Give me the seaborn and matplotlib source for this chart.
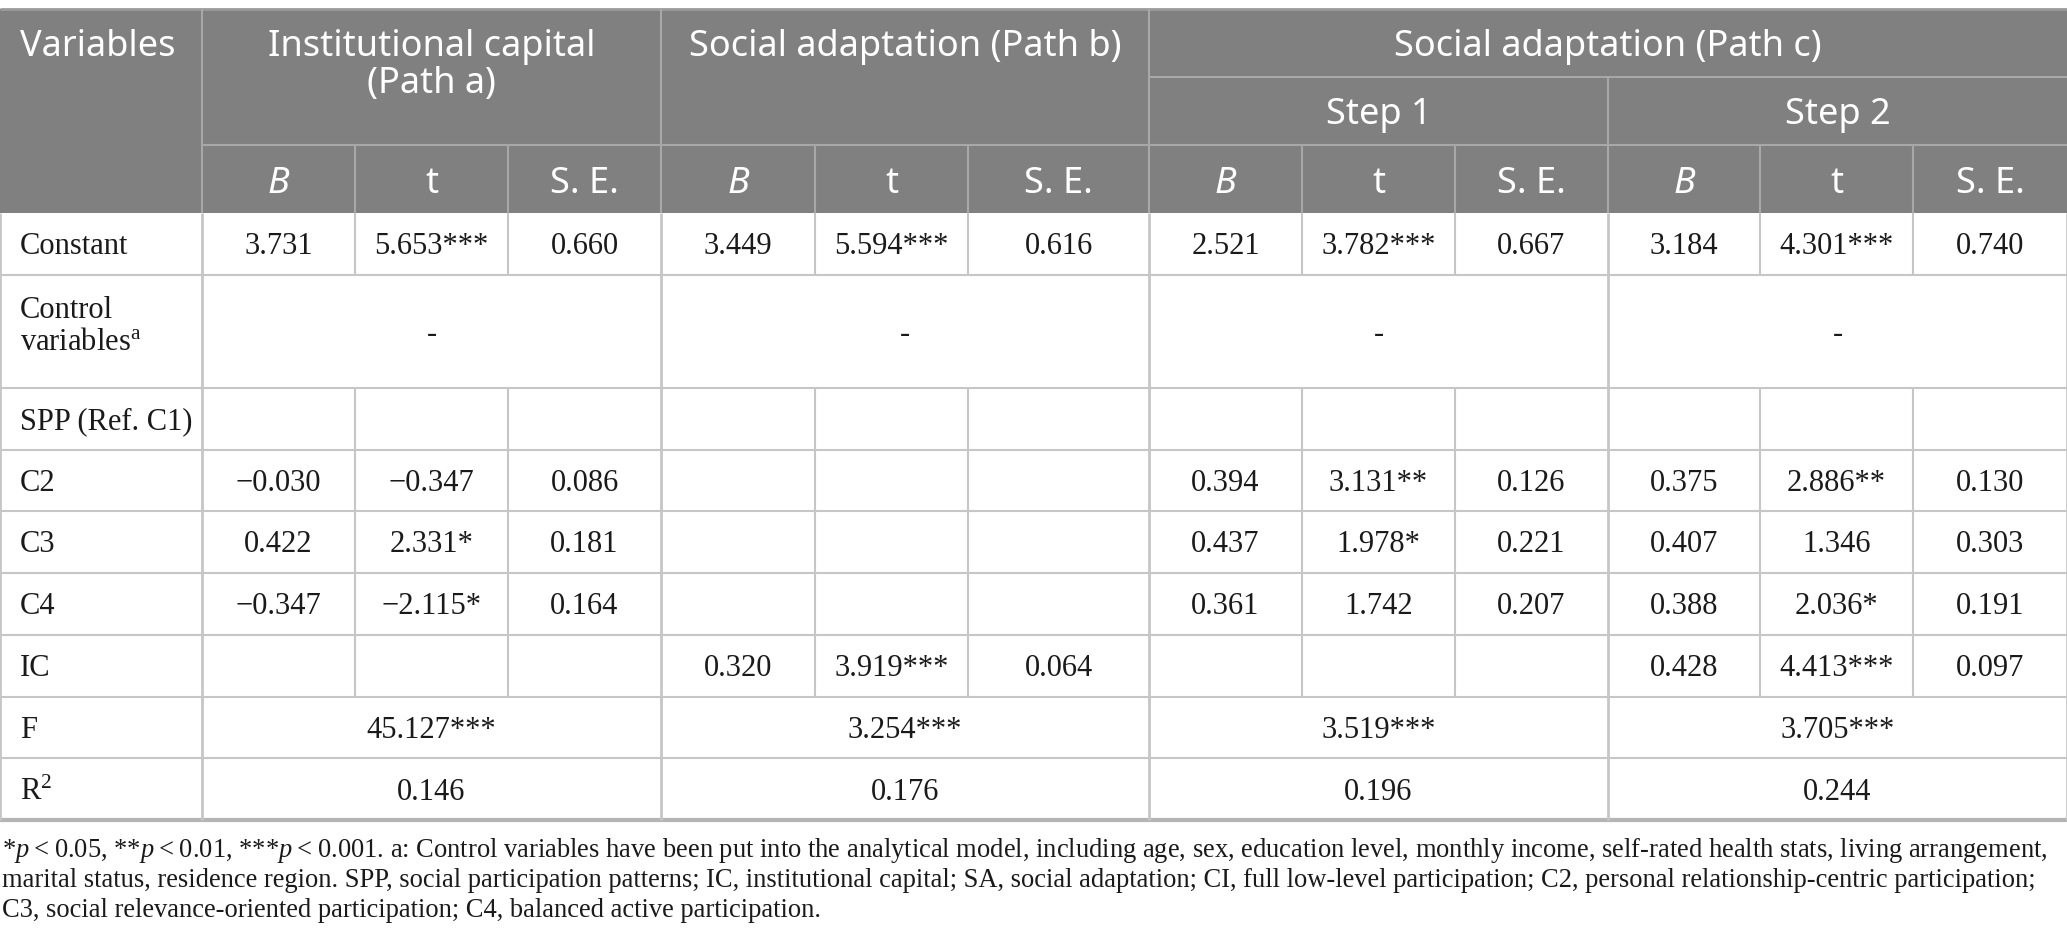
import matplotlib
matplotlib.use("Agg")
import matplotlib.pyplot as plt
import seaborn as sns
from matplotlib.patches import Rectangle

# table contents
row_labels = ["Constant", "Control\nvariables$^{\\mathrm{a}}$", "SPP (Ref. C1)", "C2", "C3", "C4", "IC", "F", "R$^{\\mathrm{2}}$"]
group_titles = ["Institutional capital\n(Path a)", "Social adaptation (Path b)", "Social adaptation (Path c)"]
step_titles = ["Step 1", "Step 2"]
stat_names = ["B", "t", "S. E."]

constant = ["3.731", "5.653***", "0.660", "3.449", "5.594***", "0.616",
            "2.521", "3.782***", "0.667", "3.184", "4.301***", "0.740"]
spp = [""] * 12
c2 = ["\u22120.030", "\u22120.347", "0.086", "", "", "",
      "0.394", "3.131**", "0.126", "0.375", "2.886**", "0.130"]
c3 = ["0.422", "2.331*", "0.181", "", "", "",
      "0.437", "1.978*", "0.221", "0.407", "1.346", "0.303"]
c4 = ["\u22120.347", "\u22122.115*", "0.164", "", "", "",
      "0.361", "1.742", "0.207", "0.388", "2.036*", "0.191"]
ic = ["", "", "", "0.320", "3.919***", "0.064",
      "", "", "", "0.428", "4.413***", "0.097"]
control_vals = ["-", "-", "-", "-"]
f_vals = ["45.127***", "3.254***", "3.519***", "3.705***"]
r2_vals = ["0.146", "0.176", "0.196", "0.244"]

ts = "\u2009"
footnote = [
    f"*$p${ts}<{ts}0.05, **$p${ts}<{ts}0.01, ***$p${ts}<{ts}0.001. a: Control variables have been put into the analytical model, "
    "including age, sex, education level, monthly income, self-rated health stats, living arrangement,",
    "marital status, residence region. SPP, social participation patterns; IC, institutional capital; "
    "SA, social adaptation; CI, full low-level participation; C2, personal relationship-centric participation;",
    "C3, social relevance-oriented participation; C4, balanced active participation.",
]

# layout (pixels)
W, H = 2067, 951
col_edges = [0, 202, 355, 508, 661, 815, 968, 1149, 1302, 1455, 1608, 1760, 1913, 2067]
row_edges = [213, 275, 388, 450, 511, 573, 635, 697, 758, 820]
top, h_mid1, h_mid2 = 9, 77, 145
header_bg = "#808080"
header_line = "#a8a8a8"
body_line = "#c6c6c6"

sns.set_theme(style="white")
plt.rcParams["font.family"] = ["Liberation Serif", "DejaVu Serif"]
plt.rcParams["mathtext.fontset"] = "custom"
plt.rcParams["mathtext.rm"] = "Liberation Serif"
plt.rcParams["mathtext.it"] = "Liberation Serif:italic"

fig = plt.figure(figsize=(W / 100, H / 100), dpi=100)
ax = fig.add_axes([0, 0, 1, 1])
ax.set_xlim(0, W)
ax.set_ylim(H, 0)
ax.axis("off")

hfont = dict(family=["Noto Sans", "DejaVu Sans"], color="white", fontsize=26)
bfont = dict(fontsize=22, color="#1a1a1a")
dy = 3  # body text nudge

# header background
ax.add_patch(Rectangle((0, top), W, row_edges[0] - top, color=header_bg, lw=0))


def hline(y, x0, x1, c, lw=1.5):
    ax.plot([x0, x1], [y, y], color=c, lw=lw, solid_capstyle="butt")


def vline(x, y0, y1, c, lw=1.5):
    ax.plot([x, x], [y0, y1], color=c, lw=lw, solid_capstyle="butt")


# header lines
hline(top, 0, W, "#9a9a9a", 2)
vline(col_edges[1], top, row_edges[0], header_line)
vline(col_edges[4], top, row_edges[0], header_line)
vline(col_edges[7], top, row_edges[0], header_line)
vline(col_edges[10], h_mid1, row_edges[0], header_line)
hline(h_mid2, col_edges[1], W, header_line)
hline(h_mid1, col_edges[7], W, header_line)
for i in range(2, 13):
    if i not in (4, 7, 10):
        vline(col_edges[i], h_mid2, row_edges[0], header_line)

# header text
mid_a = (col_edges[1] + col_edges[4]) / 2
ax.text(20, 47, "Variables", ha="left", va="center", **hfont)
ax.text(mid_a, 47, group_titles[0].split("\n")[0], ha="center", va="center", **hfont)
ax.text(mid_a, 84, group_titles[0].split("\n")[1], ha="center", va="center", **hfont)
ax.text((col_edges[4] + col_edges[7]) / 2, 47, group_titles[1], ha="center", va="center", **hfont)
ax.text((col_edges[7] + col_edges[13]) / 2, 47, group_titles[2], ha="center", va="center", **hfont)
ax.text((col_edges[7] + col_edges[10]) / 2, 115, step_titles[0], ha="center", va="center", **hfont)
ax.text((col_edges[10] + col_edges[13]) / 2, 115, step_titles[1], ha="center", va="center", **hfont)
for i in range(12):
    name = stat_names[i % 3]
    ax.text((col_edges[i + 1] + col_edges[i + 2]) / 2, 184, name, ha="center", va="center",
            style="italic" if name == "B" else "normal", **hfont)

# body lines
for y in row_edges[1:]:
    last = y == row_edges[-1]
    hline(y, 0, W, "#b4b4b4" if last else body_line, 3 if last else 1.5)
for x in (col_edges[0], col_edges[1], col_edges[4], col_edges[7], col_edges[10], col_edges[13]):
    vline(x, row_edges[0], row_edges[-1], body_line, 2)
split_rows = [(row_edges[0], row_edges[1]), (row_edges[2], row_edges[7])]
for i in range(2, 13):
    if i in (4, 7, 10):
        continue
    for y0, y1 in split_rows:
        vline(col_edges[i], y0, y1, body_line)

# body text
centers = [(row_edges[k] + row_edges[k + 1]) / 2 + dy for k in range(len(row_edges) - 1)]
for k, lab in enumerate(row_labels):
    if k == 1:
        ax.text(20, 310, "Control", ha="left", va="center", **bfont)
        ax.text(20, 342, "variables$^{\\mathrm{a}}$", ha="left", va="center", **bfont)
    else:
        ax.text(20, centers[k], lab, ha="left", va="center", **bfont)

full_rows = {0: constant, 2: spp, 3: c2, 4: c3, 5: c4, 6: ic}
for k, vals in full_rows.items():
    for i, v in enumerate(vals):
        if v:
            ax.text((col_edges[i + 1] + col_edges[i + 2]) / 2, centers[k], v, ha="center", va="center", **bfont)

group_spans = [(1, 4), (4, 7), (7, 10), (10, 13)]
for k, vals in ((1, control_vals), (7, f_vals), (8, r2_vals)):
    for (a, b), v in zip(group_spans, vals):
        ax.text((col_edges[a] + col_edges[b]) / 2, centers[k], v, ha="center", va="center", **bfont)

# footnote
for n, line in enumerate(footnote):
    ax.text(2, 857 + n * 30, line, ha="left", va="baseline", fontsize=19.1, color="#1a1a1a")

fig.savefig("out.png", dpi=100)
